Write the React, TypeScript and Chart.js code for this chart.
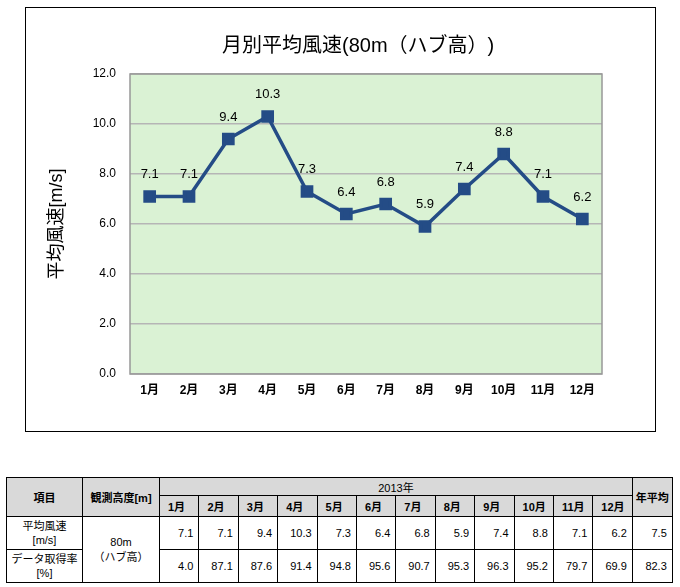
import React, { useEffect, useRef } from "react";
import { Chart, registerables } from "chart.js";

Chart.register(...registerables);

const months = ["1月", "2月", "3月", "4月", "5月", "6月", "7月", "8月", "9月", "10月", "11月", "12月"];
const windSpeed = [7.1, 7.1, 9.4, 10.3, 7.3, 6.4, 6.8, 5.9, 7.4, 8.8, 7.1, 6.2];
const availability = [4.0, 87.1, 87.6, 91.4, 94.8, 95.6, 90.7, 95.3, 96.3, 95.2, 79.7, 69.9];
const annualWind = 7.5;
const annualAvail = 82.3;
const yearLabel = "2013年";
const chartTitle = "月別平均風速(80m（ハブ高）)";
const yTitle = "平均風速[m/s]";

const FONT = "'Liberation Sans', 'Noto Sans CJK JP', sans-serif";

const plotBg = {
  id: "plotBg",
  beforeDraw(chart: any) {
    const { ctx, chartArea } = chart;
    ctx.save();
    ctx.fillStyle = "#DAF2D4";
    ctx.fillRect(chartArea.left, chartArea.top, chartArea.right - chartArea.left, chartArea.bottom - chartArea.top);
    ctx.restore();
  },
  afterDatasetsDraw(chart: any) {
    const { ctx, chartArea } = chart;
    ctx.save();
    ctx.strokeStyle = "#989898";
    ctx.lineWidth = 1.5;
    ctx.strokeRect(chartArea.left, chartArea.top, chartArea.right - chartArea.left, chartArea.bottom - chartArea.top);
    ctx.restore();
  },
};

const dataLabels = {
  id: "dataLabels",
  afterDatasetsDraw(chart: any) {
    const { ctx } = chart;
    const meta = chart.getDatasetMeta(0);
    ctx.save();
    ctx.fillStyle = "#000";
    ctx.font = `13px ${FONT}`;
    ctx.textAlign = "center";
    ctx.textBaseline = "middle";
    meta.data.forEach((pt: any, i: number) => {
      ctx.fillText(windSpeed[i].toFixed(1), pt.x, pt.y - 22);
    });
    ctx.restore();
  },
};

const chartTitlePlugin = {
  id: "chartTitlePlugin",
  afterDraw(chart: any) {
    const { ctx } = chart;
    ctx.save();
    ctx.fillStyle = "#000";
    ctx.font = `20px ${FONT}`;
    ctx.textAlign = "center";
    ctx.textBaseline = "middle";
    ctx.fillText(chartTitle, chart.width * 0.528, 38);
    ctx.restore();
  },
};

function ChartBox() {
  const ref = useRef<HTMLCanvasElement>(null);
  useEffect(() => {
    if (!ref.current) return;
    const chart = new Chart(ref.current, {
      type: "line",
      data: {
        labels: months,
        datasets: [
          {
            data: windSpeed,
            borderColor: "#244C86",
            backgroundColor: "#244C86",
            borderWidth: 3.5,
            pointStyle: "rect",
            pointRadius: 6.5,
            pointHoverRadius: 6.5,
            tension: 0,
          },
        ],
      },
      options: {
        animation: false,
        responsive: false,
        layout: { padding: { left: 0, right: 53, top: 66, bottom: 0 } },
        plugins: {
          legend: { display: false },
          tooltip: { enabled: false },
          title: { display: false },
        },
        scales: {
          x: {
            offset: true,
            grid: { display: false, drawTicks: false },
            border: { display: false },
            ticks: {
              color: "#000",
              font: { family: FONT, size: 12, weight: "bold" },
              padding: 9,
              maxRotation: 0,
              autoSkip: false,
            },
            afterFit(scale: any) {
              scale.height = 57;
            },
          },
          y: {
            min: 0,
            max: 12,
            grid: { color: "#B5B5B5", lineWidth: 1.5, drawTicks: false },
            border: { display: false },
            ticks: {
              stepSize: 2,
              color: "#000",
              font: { family: FONT, size: 12 },
              padding: 14,
              callback: (v: any) => Number(v).toFixed(1),
            },
            title: {
              display: true,
              text: yTitle,
              color: "#000",
              font: { family: FONT, size: 18 },
              padding: { top: 20, bottom: 0 },
            },
            afterFit(scale: any) {
              scale.width = 104;
            },
          },
        },
      },
      plugins: [plotBg, dataLabels, chartTitlePlugin],
    });
    return () => chart.destroy();
  }, []);
  return <canvas ref={ref} width={629} height={423} style={{ display: "block" }} />;
}

const cell: React.CSSProperties = {
  border: "1px solid #000",
  padding: 0,
  fontFamily: FONT,
  fontSize: 11,
  color: "#000",
};
const head: React.CSSProperties = { ...cell, background: "#D9D9D9", textAlign: "center", fontWeight: "bold" };
const num: React.CSSProperties = { ...cell, textAlign: "right", paddingRight: 5 };

function DataTable() {
  return (
    <table
      style={{
        position: "absolute",
        left: 6,
        top: 477,
        width: 666,
        borderCollapse: "collapse",
        tableLayout: "fixed",
      }}
    >
      <colgroup>
        <col style={{ width: 76 }} />
        <col style={{ width: 77 }} />
        {months.map((m) => (
          <col key={m} style={{ width: 39.4 }} />
        ))}
        <col style={{ width: 40 }} />
      </colgroup>
      <tbody>
        <tr style={{ height: 18 }}>
          <td rowSpan={2} style={head}>項目</td>
          <td rowSpan={2} style={head}>観測高度[m]</td>
          <td colSpan={12} style={{ ...head, fontWeight: "normal" }}>{yearLabel}</td>
          <td rowSpan={2} style={head}>年平均</td>
        </tr>
        <tr style={{ height: 21 }}>
          {months.map((m) => (
            <td key={m} style={{ ...head, textAlign: "left", paddingLeft: 8 }}>{m}</td>
          ))}
        </tr>
        <tr style={{ height: 33 }}>
          <td style={{ ...cell, textAlign: "center", lineHeight: "14px" }}>
            平均風速
            <br />
            [m/s]
          </td>
          <td rowSpan={2} style={{ ...cell, textAlign: "center", lineHeight: "15px" }}>
            80m
            <br />
            （ハブ高）
          </td>
          {windSpeed.map((v, i) => (
            <td key={i} style={num}>{v.toFixed(1)}</td>
          ))}
          <td style={num}>{annualWind.toFixed(1)}</td>
        </tr>
        <tr style={{ height: 33 }}>
          <td style={{ ...cell, textAlign: "center", lineHeight: "14px" }}>
            データ取得率
            <br />
            [%]
          </td>
          {availability.map((v, i) => (
            <td key={i} style={num}>{v.toFixed(1)}</td>
          ))}
          <td style={num}>{annualAvail.toFixed(1)}</td>
        </tr>
      </tbody>
    </table>
  );
}

export default function App() {
  return (
    <div style={{ position: "absolute", left: 0, top: 0, width: 680, height: 587, background: "#fff" }}>
      <div
        style={{
          position: "absolute",
          left: 25,
          top: 7,
          width: 629,
          height: 423,
          border: "1px solid #000",
        }}
      >
        <ChartBox />
      </div>
      <DataTable />
    </div>
  );
}
